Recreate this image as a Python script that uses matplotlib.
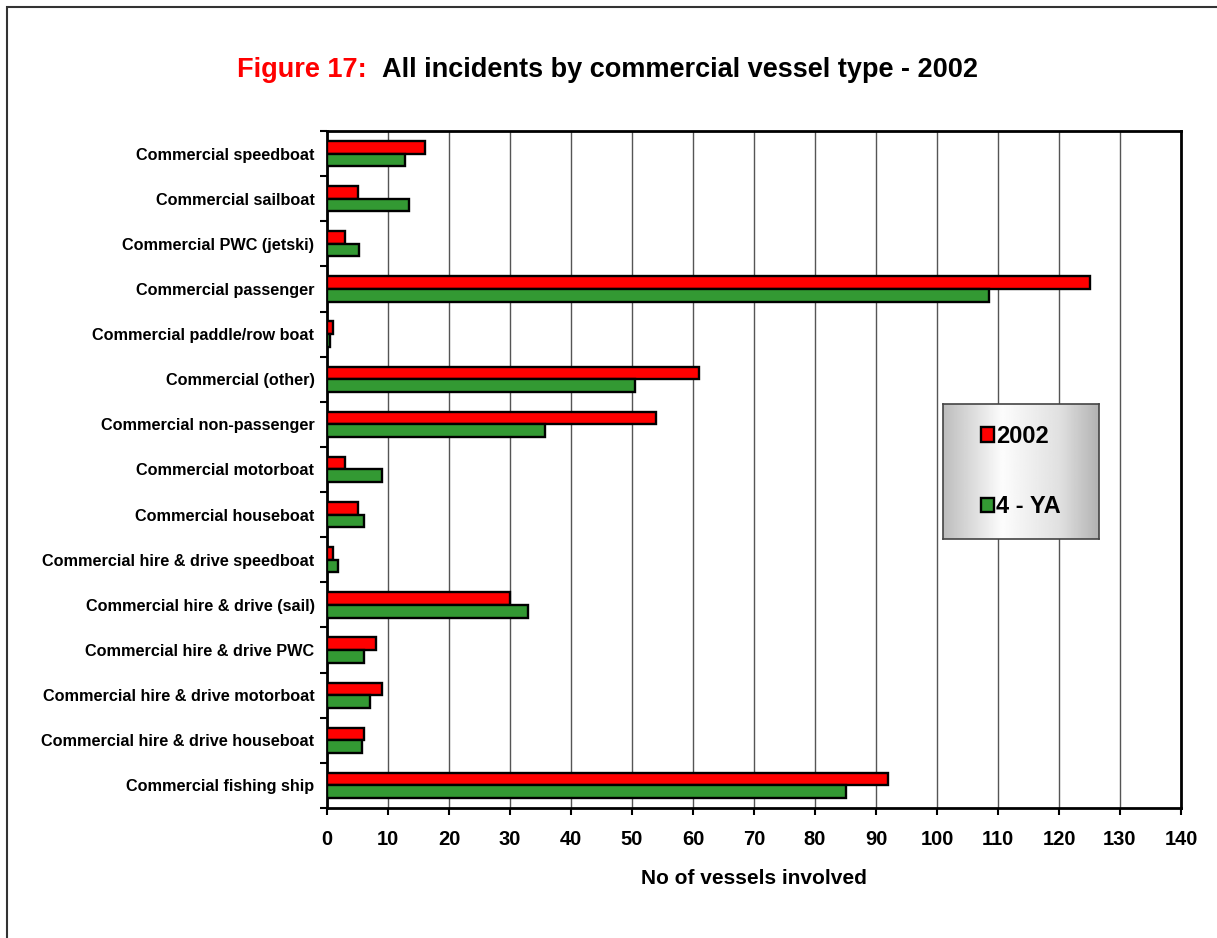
import matplotlib.pyplot as plt
import matplotlib.patches as mpatches
import numpy as np

categories = ['Commercial speedboat', 'Commercial sailboat', 'Commercial PWC (jetski)',
              'Commercial passenger', 'Commercial paddle/row boat', 'Commercial (other)',
              'Commercial non-passenger', 'Commercial motorboat', 'Commercial houseboat',
              'Commercial hire & drive speedboat', 'Commercial hire & drive (sail)',
              'Commercial hire & drive PWC', 'Commercial hire & drive motorboat',
              'Commercial hire & drive houseboat', 'Commercial fishing ship']
vals_2002 = [16, 5, 3, 125, 1, 61, 54, 3, 5, 1, 30, 8, 9, 6, 92]
vals_4ya = [12.75, 13.5, 5.25, 108.5, 0.5, 50.5, 35.75, 9, 6, 1.75, 33, 6, 7, 5.75, 85]
xticks = np.arange(0, 141, 10)

plt.rcParams['font.family'] = ['Liberation Sans', 'DejaVu Sans']
fig = plt.figure(figsize=(12.17, 9.38), dpi=100)
ax = fig.add_axes([327/1217, 1-808/938, (1181-327)/1217, (808-131)/938])

# outer frame of the page
fig.patches.append(mpatches.Rectangle((7/1217, -0.05), 1.1, 1-7/938+0.05, transform=fig.transFigure,
                                      fill=False, edgecolor='#333333', linewidth=1.5))

y = np.arange(len(categories))
h = 0.28
b1 = ax.barh(y - h/2, vals_2002, height=h, color='#ff0000', edgecolor='black', linewidth=1.7, label='2002', zorder=3)
b2 = ax.barh(y + h/2, vals_4ya, height=h, color='#339933', edgecolor='black', linewidth=1.7, label='4 - YA', zorder=3)

ax.set_xlim(0, 140)
ax.set_ylim(len(categories) - 0.5, -0.5)
ax.set_xticks(xticks)
ax.set_xticklabels([str(t) for t in xticks], fontsize=14.5, fontweight='bold')
ax.set_yticks(y)
ax.set_yticklabels(categories, fontsize=11.7, fontweight='bold')
ax.set_yticks(np.arange(-0.5, len(categories)), minor=True)
ax.tick_params(axis='y', which='major', length=0, pad=9)
ax.tick_params(axis='y', which='minor', length=5, width=1.5, direction='out')
ax.tick_params(axis='x', length=5, width=1.5, direction='out', pad=11)
ax.xaxis.grid(True, color='#555555', linewidth=1, zorder=0)
ax.set_axisbelow(True)
for s in ax.spines.values():
    s.set_linewidth(2)
    s.set_color('black')
ax.set_xlabel('No of vessels involved', fontsize=15, fontweight='bold', labelpad=14)

# title in two colours
fig.text(237/1217, 1-70/938, 'Figure 17:', color='#ff0000', fontsize=19.5, fontweight='bold', va='center', ha='left')
fig.text(382/1217, 1-70/938, 'All incidents by commercial vessel type - 2002', color='black',
         fontsize=19.5, fontweight='bold', va='center', ha='left')

# legend box with grey gradient
lax = fig.add_axes([943/1217, 1-539/938, (1099-943)/1217, (539-404)/938], zorder=5)
xs = np.linspace(0, 1, 200)
shade = np.interp(xs, [0, 0.38, 0.75, 1], [0.74, 0.99, 0.88, 0.70])
lax.imshow(np.tile(shade, (10, 1)), cmap='gray', vmin=0, vmax=1, aspect='auto', extent=[0, 1, 0, 1])
lax.set_xticks([])
lax.set_yticks([])
for s in lax.spines.values():
    s.set_color('#444444')
    s.set_linewidth(1.2)
leg = lax.legend([b1, b2], ['2002', '4 - YA'], loc='center', frameon=False,
                 prop={'size': 17, 'weight': 'bold'}, handlelength=0.55, handleheight=0.55,
                 handletextpad=0.1, labelspacing=2.0, bbox_to_anchor=(0.5, 0.5))

fig.savefig('out.png', dpi=100)
